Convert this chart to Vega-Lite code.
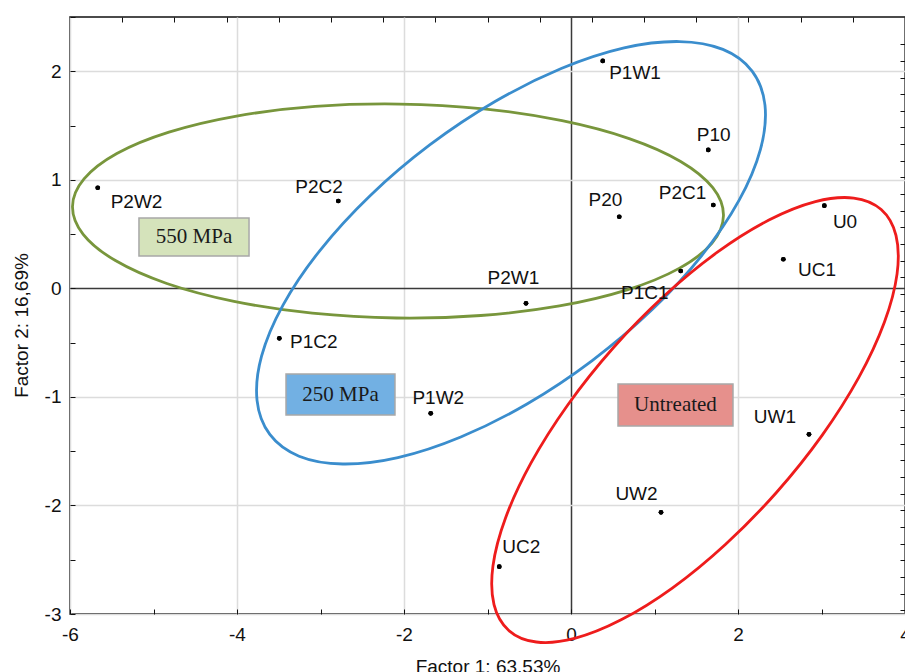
{
  "$schema": "https://vega.github.io/schema/vega-lite/v6.json",
  "width": 835,
  "height": 597,
  "autosize": "none",
  "padding": {"left": 70, "top": 17, "right": 0, "bottom": 58},
  "background": "white",
  "config": {
    "view": {"stroke": "#111111", "strokeWidth": 1.5},
    "font": "Liberation Sans"
  },
  "datasets": {
    "points": [
      {"name": "P2W2", "x": -5.668, "y": 0.927},
      {"name": "P2C2", "x": -2.787, "y": 0.805},
      {"name": "P1W1", "x": 0.380, "y": 2.095},
      {"name": "P10", "x": 1.644, "y": 1.275},
      {"name": "P2C1", "x": 1.704, "y": 0.768},
      {"name": "P20", "x": 0.578, "y": 0.660},
      {"name": "U0", "x": 3.034, "y": 0.762},
      {"name": "P2W1", "x": -0.539, "y": -0.138},
      {"name": "P1W2", "x": -1.680, "y": -1.151},
      {"name": "P1C2", "x": -3.493, "y": -0.460},
      {"name": "P1C1", "x": 1.314, "y": 0.160},
      {"name": "UC1", "x": 2.543, "y": 0.268},
      {"name": "UW1", "x": 2.850, "y": -1.345},
      {"name": "UW2", "x": 1.078, "y": -2.063},
      {"name": "UC2", "x": -0.859, "y": -2.564}
    ],
    "boxes": [
      {"g": "550 MPa", "x1": -5.174, "x2": -3.856, "y1": 0.648, "y2": 0.298, "xc": -4.515, "yc": 0.473},
      {"g": "250 MPa", "x1": -3.413, "x2": -2.108, "y1": -0.789, "y2": -1.167, "xc": -2.760, "yc": -0.978},
      {"g": "Untreated", "x1": 0.563, "x2": 1.940, "y1": -0.881, "y2": -1.268, "xc": 1.251, "yc": -1.075}
    ],
    "ellipses": [
      {"g": "550 MPa", "i": 0, "x": 1.826, "y": 0.671},
      {"g": "550 MPa", "i": 1, "x": 1.689, "y": 0.417},
      {"g": "550 MPa", "i": 2, "x": 1.295, "y": 0.184},
      {"g": "550 MPa", "i": 3, "x": 0.672, "y": -0.014},
      {"g": "550 MPa", "i": 4, "x": -0.138, "y": -0.162},
      {"g": "550 MPa", "i": 5, "x": -1.080, "y": -0.250},
      {"g": "550 MPa", "i": 6, "x": -2.090, "y": -0.273},
      {"g": "550 MPa", "i": 7, "x": -3.098, "y": -0.229},
      {"g": "550 MPa", "i": 8, "x": -4.036, "y": -0.120},
      {"g": "550 MPa", "i": 9, "x": -4.841, "y": 0.045},
      {"g": "550 MPa", "i": 10, "x": -5.456, "y": 0.256},
      {"g": "550 MPa", "i": 11, "x": -5.842, "y": 0.498},
      {"g": "550 MPa", "i": 12, "x": -5.970, "y": 0.755},
      {"g": "550 MPa", "i": 13, "x": -5.832, "y": 1.008},
      {"g": "550 MPa", "i": 14, "x": -5.439, "y": 1.242},
      {"g": "550 MPa", "i": 15, "x": -4.815, "y": 1.439},
      {"g": "550 MPa", "i": 16, "x": -4.005, "y": 1.587},
      {"g": "550 MPa", "i": 17, "x": -3.063, "y": 1.676},
      {"g": "550 MPa", "i": 18, "x": -2.054, "y": 1.698},
      {"g": "550 MPa", "i": 19, "x": -1.046, "y": 1.654},
      {"g": "550 MPa", "i": 20, "x": -0.107, "y": 1.545},
      {"g": "550 MPa", "i": 21, "x": 0.697, "y": 1.380},
      {"g": "550 MPa", "i": 22, "x": 1.313, "y": 1.169},
      {"g": "550 MPa", "i": 23, "x": 1.698, "y": 0.927},
      {"g": "250 MPa", "i": 0, "x": 2.169, "y": 2.002},
      {"g": "250 MPa", "i": 1, "x": 2.323, "y": 1.688},
      {"g": "250 MPa", "i": 2, "x": 2.269, "y": 1.281},
      {"g": "250 MPa", "i": 3, "x": 2.012, "y": 0.810},
      {"g": "250 MPa", "i": 4, "x": 1.568, "y": 0.305},
      {"g": "250 MPa", "i": 5, "x": 0.969, "y": -0.198},
      {"g": "250 MPa", "i": 6, "x": 0.254, "y": -0.665},
      {"g": "250 MPa", "i": 7, "x": -0.527, "y": -1.065},
      {"g": "250 MPa", "i": 8, "x": -1.320, "y": -1.369},
      {"g": "250 MPa", "i": 9, "x": -2.073, "y": -1.559},
      {"g": "250 MPa", "i": 10, "x": -2.733, "y": -1.618},
      {"g": "250 MPa", "i": 11, "x": -3.257, "y": -1.546},
      {"g": "250 MPa", "i": 12, "x": -3.607, "y": -1.346},
      {"g": "250 MPa", "i": 13, "x": -3.760, "y": -1.032},
      {"g": "250 MPa", "i": 14, "x": -3.706, "y": -0.625},
      {"g": "250 MPa", "i": 15, "x": -3.449, "y": -0.154},
      {"g": "250 MPa", "i": 16, "x": -3.005, "y": 0.351},
      {"g": "250 MPa", "i": 17, "x": -2.406, "y": 0.854},
      {"g": "250 MPa", "i": 18, "x": -1.692, "y": 1.321},
      {"g": "250 MPa", "i": 19, "x": -0.910, "y": 1.721},
      {"g": "250 MPa", "i": 20, "x": -0.117, "y": 2.025},
      {"g": "250 MPa", "i": 21, "x": 0.636, "y": 2.215},
      {"g": "250 MPa", "i": 22, "x": 1.296, "y": 2.274},
      {"g": "250 MPa", "i": 23, "x": 1.819, "y": 2.202},
      {"g": "Untreated", "i": 0, "x": 3.715, "y": 0.726},
      {"g": "Untreated", "i": 1, "x": 3.892, "y": 0.488},
      {"g": "Untreated", "i": 2, "x": 3.905, "y": 0.134},
      {"g": "Untreated", "i": 3, "x": 3.753, "y": -0.312},
      {"g": "Untreated", "i": 4, "x": 3.447, "y": -0.820},
      {"g": "Untreated", "i": 5, "x": 3.007, "y": -1.354},
      {"g": "Untreated", "i": 6, "x": 2.463, "y": -1.878},
      {"g": "Untreated", "i": 7, "x": 1.852, "y": -2.357},
      {"g": "Untreated", "i": 8, "x": 1.217, "y": -2.759},
      {"g": "Untreated", "i": 9, "x": 0.600, "y": -3.054},
      {"g": "Untreated", "i": 10, "x": 0.043, "y": -3.225},
      {"g": "Untreated", "i": 11, "x": -0.416, "y": -3.258},
      {"g": "Untreated", "i": 12, "x": -0.745, "y": -3.152},
      {"g": "Untreated", "i": 13, "x": -0.922, "y": -2.914},
      {"g": "Untreated", "i": 14, "x": -0.935, "y": -2.559},
      {"g": "Untreated", "i": 15, "x": -0.783, "y": -2.113},
      {"g": "Untreated", "i": 16, "x": -0.477, "y": -1.606},
      {"g": "Untreated", "i": 17, "x": -0.037, "y": -1.072},
      {"g": "Untreated", "i": 18, "x": 0.507, "y": -0.547},
      {"g": "Untreated", "i": 19, "x": 1.118, "y": -0.068},
      {"g": "Untreated", "i": 20, "x": 1.753, "y": 0.333},
      {"g": "Untreated", "i": 21, "x": 2.370, "y": 0.629},
      {"g": "Untreated", "i": 22, "x": 2.927, "y": 0.799},
      {"g": "Untreated", "i": 23, "x": 3.386, "y": 0.832}
    ]
  },
  "resolve": {"axis": {"x": "independent", "y": "independent"}},
  "layer": [
    {
      "data": {"name": "points"},
      "mark": {"type": "point", "filled": true, "color": "#000000", "size": 22, "opacity": 1},
      "encoding": {
        "x": {
          "field": "x", "type": "quantitative",
          "scale": {"domain": [-6, 4], "nice": false, "zero": false},
          "axis": {
            "orient": "bottom",
            "values": [-6, -5, -4, -3, -2, -1, 0, 1, 2, 3, 4],
            "labelExpr": "datum.value % 2 == 0 ? '' + datum.value : ''",
            "labelFlush": false, "labelOverlap": false, "labelBound": false,
            "labelFont": "Liberation Sans", "labelFontSize": 19, "labelColor": "#111111", "labelPadding": 16,
            "tickSize": -5, "tickColor": "#111111", "tickWidth": 1,
            "domain": false,
            "grid": true, "gridWidth": 1.5,
            "gridColor": {"condition": {"test": "datum.value == 0", "value": "#3a3a3a"}, "value": "#dcdcdc"},
            "gridOpacity": {"condition": {"test": "datum.value % 2 != 0", "value": 0}, "value": 1},
            "title": "Factor 1: 63,53%",
            "titleFont": "Liberation Sans", "titleFontSize": 19, "titleFontWeight": "normal", "titleColor": "#111111",
            "titleBaseline": "alphabetic", "titleY": 58
          }
        },
        "y": {
          "field": "y", "type": "quantitative",
          "scale": {"domain": [-3, 2.5], "nice": false, "zero": false},
          "axis": {
            "orient": "left",
            "values": [-3, -2.5, -2, -1.5, -1, -0.5, 0, 0.5, 1, 1.5, 2, 2.5],
            "labelExpr": "datum.value % 1 == 0 ? '' + datum.value : ''",
            "labelFlush": false, "labelOverlap": false, "labelBound": false,
            "labelFont": "Liberation Sans", "labelFontSize": 19, "labelColor": "#111111", "labelPadding": 14,
            "tickSize": -5, "tickColor": "#111111", "tickWidth": 1,
            "domain": false,
            "grid": true, "gridWidth": 1.5,
            "gridColor": {"condition": {"test": "datum.value == 0", "value": "#3a3a3a"}, "value": "#dcdcdc"},
            "gridOpacity": {"condition": {"test": "datum.value % 1 != 0", "value": 0}, "value": 1},
            "title": "Factor 2: 16,69%",
            "titleFont": "Liberation Sans", "titleFontSize": 19, "titleFontWeight": "normal", "titleColor": "#111111",
            "titleBaseline": "alphabetic", "titleAngle": 270, "titleX": -43, "titleY": 308
          }
        }
      }
    },
    {
      "data": {"name": "boxes"},
      "mark": {"type": "rect", "stroke": "#a8a8a8", "strokeWidth": 1.5},
      "encoding": {
        "x": {
          "field": "x1", "type": "quantitative",
          "axis": {
            "orient": "top",
            "values": [-5.375, -4.75, -4.125, -3.5, -2.875, -2.25, -1.625, -1, -0.375, 0.25, 0.875, 1.5, 2.125, 2.75, 3.375],
            "labels": false, "grid": false, "domain": false,
            "tickSize": -5, "tickColor": "#111111", "tickWidth": 1, "title": null
          }
        },
        "x2": {"field": "x2"},
        "y": {
          "field": "y1", "type": "quantitative",
          "axis": {
            "orient": "right",
            "values": [2.248, 2.095, 1.942, 1.788, 1.635, 1.482, 1.328, 1.175, 1.022, 0.868, 0.715, 0.562, 0.408, 0.255, 0.102, -0.052, -0.205, -0.358, -0.512, -0.665, -0.818, -0.972, -1.125, -1.278, -1.432, -1.585, -1.738, -1.892, -2.045, -2.198, -2.352, -2.505, -2.658, -2.812, -2.965],
            "labels": false, "grid": false, "domain": false,
            "tickSize": -5, "tickColor": "#111111", "tickWidth": 1, "title": null
          }
        },
        "y2": {"field": "y2"},
        "fill": {
          "field": "g", "type": "nominal", "legend": null,
          "scale": {"domain": ["550 MPa", "250 MPa", "Untreated"], "range": ["#d5e3bb", "#72b0e3", "#e6908c"]}
        }
      }
    },
    {
      "data": {"name": "boxes"},
      "mark": {"type": "text", "font": "Liberation Serif", "fontSize": 21, "color": "#1a1a1a", "align": "center", "baseline": "middle"},
      "encoding": {
        "x": {"field": "xc", "type": "quantitative", "axis": null},
        "y": {"field": "yc", "type": "quantitative", "axis": null},
        "text": {"field": "g"}
      }
    },
    {
      "data": {"name": "ellipses"},
      "mark": {"type": "line", "interpolate": "cardinal-closed", "strokeWidth": 2.8},
      "encoding": {
        "x": {"field": "x", "type": "quantitative", "axis": null},
        "y": {"field": "y", "type": "quantitative", "axis": null},
        "order": {"field": "i", "type": "quantitative"},
        "color": {
          "field": "g", "type": "nominal", "legend": null,
          "scale": {"domain": ["550 MPa", "250 MPa", "Untreated"], "range": ["#78963c", "#3a8dcd", "#ee1c1c"]}
        }
      }
    },
    {
      "data": {"name": "points"},
      "mark": {"type": "point", "filled": true, "color": "#000000", "size": 22, "opacity": 1},
      "encoding": {
        "x": {"field": "x", "type": "quantitative", "axis": null},
        "y": {"field": "y", "type": "quantitative", "axis": null}
      }
    },
    {"data": {"name": "points"}, "transform": [{"filter": "datum.name == 'P2W2'"}], "mark": {"type": "text", "dx": 38.8, "dy": 14, "fontSize": 19, "font": "Liberation Sans", "color": "#111111", "align": "center", "baseline": "middle"}, "encoding": {"x": {"field": "x", "type": "quantitative", "axis": null}, "y": {"field": "y", "type": "quantitative", "axis": null}, "text": {"field": "name"}}},
    {"data": {"name": "points"}, "transform": [{"filter": "datum.name == 'P2C2'"}], "mark": {"type": "text", "dx": -19.3, "dy": -14, "fontSize": 19, "font": "Liberation Sans", "color": "#111111", "align": "center", "baseline": "middle"}, "encoding": {"x": {"field": "x", "type": "quantitative", "axis": null}, "y": {"field": "y", "type": "quantitative", "axis": null}, "text": {"field": "name"}}},
    {"data": {"name": "points"}, "transform": [{"filter": "datum.name == 'P1W1'"}], "mark": {"type": "text", "dx": 32.3, "dy": 12, "fontSize": 19, "font": "Liberation Sans", "color": "#111111", "align": "center", "baseline": "middle"}, "encoding": {"x": {"field": "x", "type": "quantitative", "axis": null}, "y": {"field": "y", "type": "quantitative", "axis": null}, "text": {"field": "name"}}},
    {"data": {"name": "points"}, "transform": [{"filter": "datum.name == 'P10'"}], "mark": {"type": "text", "dx": 5.4, "dy": -15, "fontSize": 19, "font": "Liberation Sans", "color": "#111111", "align": "center", "baseline": "middle"}, "encoding": {"x": {"field": "x", "type": "quantitative", "axis": null}, "y": {"field": "y", "type": "quantitative", "axis": null}, "text": {"field": "name"}}},
    {"data": {"name": "points"}, "transform": [{"filter": "datum.name == 'P2C1'"}], "mark": {"type": "text", "dx": -30.8, "dy": -12.3, "fontSize": 19, "font": "Liberation Sans", "color": "#111111", "align": "center", "baseline": "middle"}, "encoding": {"x": {"field": "x", "type": "quantitative", "axis": null}, "y": {"field": "y", "type": "quantitative", "axis": null}, "text": {"field": "name"}}},
    {"data": {"name": "points"}, "transform": [{"filter": "datum.name == 'P20'"}], "mark": {"type": "text", "dx": -13.8, "dy": -16.7, "fontSize": 19, "font": "Liberation Sans", "color": "#111111", "align": "center", "baseline": "middle"}, "encoding": {"x": {"field": "x", "type": "quantitative", "axis": null}, "y": {"field": "y", "type": "quantitative", "axis": null}, "text": {"field": "name"}}},
    {"data": {"name": "points"}, "transform": [{"filter": "datum.name == 'U0'"}], "mark": {"type": "text", "dx": 20.7, "dy": 16, "fontSize": 19, "font": "Liberation Sans", "color": "#111111", "align": "center", "baseline": "middle"}, "encoding": {"x": {"field": "x", "type": "quantitative", "axis": null}, "y": {"field": "y", "type": "quantitative", "axis": null}, "text": {"field": "name"}}},
    {"data": {"name": "points"}, "transform": [{"filter": "datum.name == 'UC1'"}], "mark": {"type": "text", "dx": 33.7, "dy": 10.7, "fontSize": 19, "font": "Liberation Sans", "color": "#111111", "align": "center", "baseline": "middle"}, "encoding": {"x": {"field": "x", "type": "quantitative", "axis": null}, "y": {"field": "y", "type": "quantitative", "axis": null}, "text": {"field": "name"}}},
    {"data": {"name": "points"}, "transform": [{"filter": "datum.name == 'P1C1'"}], "mark": {"type": "text", "dx": -35.9, "dy": 22, "fontSize": 19, "font": "Liberation Sans", "color": "#111111", "align": "center", "baseline": "middle"}, "encoding": {"x": {"field": "x", "type": "quantitative", "axis": null}, "y": {"field": "y", "type": "quantitative", "axis": null}, "text": {"field": "name"}}},
    {"data": {"name": "points"}, "transform": [{"filter": "datum.name == 'P2W1'"}], "mark": {"type": "text", "dx": -12.5, "dy": -25.3, "fontSize": 19, "font": "Liberation Sans", "color": "#111111", "align": "center", "baseline": "middle"}, "encoding": {"x": {"field": "x", "type": "quantitative", "axis": null}, "y": {"field": "y", "type": "quantitative", "axis": null}, "text": {"field": "name"}}},
    {"data": {"name": "points"}, "transform": [{"filter": "datum.name == 'P1W2'"}], "mark": {"type": "text", "dx": 7.6, "dy": -15.3, "fontSize": 19, "font": "Liberation Sans", "color": "#111111", "align": "center", "baseline": "middle"}, "encoding": {"x": {"field": "x", "type": "quantitative", "axis": null}, "y": {"field": "y", "type": "quantitative", "axis": null}, "text": {"field": "name"}}},
    {"data": {"name": "points"}, "transform": [{"filter": "datum.name == 'P1C2'"}], "mark": {"type": "text", "dx": 34.5, "dy": 3.4, "fontSize": 19, "font": "Liberation Sans", "color": "#111111", "align": "center", "baseline": "middle"}, "encoding": {"x": {"field": "x", "type": "quantitative", "axis": null}, "y": {"field": "y", "type": "quantitative", "axis": null}, "text": {"field": "name"}}},
    {"data": {"name": "points"}, "transform": [{"filter": "datum.name == 'UW1'"}], "mark": {"type": "text", "dx": -34, "dy": -17.6, "fontSize": 19, "font": "Liberation Sans", "color": "#111111", "align": "center", "baseline": "middle"}, "encoding": {"x": {"field": "x", "type": "quantitative", "axis": null}, "y": {"field": "y", "type": "quantitative", "axis": null}, "text": {"field": "name"}}},
    {"data": {"name": "points"}, "transform": [{"filter": "datum.name == 'UW2'"}], "mark": {"type": "text", "dx": -24.5, "dy": -18.3, "fontSize": 19, "font": "Liberation Sans", "color": "#111111", "align": "center", "baseline": "middle"}, "encoding": {"x": {"field": "x", "type": "quantitative", "axis": null}, "y": {"field": "y", "type": "quantitative", "axis": null}, "text": {"field": "name"}}},
    {"data": {"name": "points"}, "transform": [{"filter": "datum.name == 'UC2'"}], "mark": {"type": "text", "dx": 22, "dy": -20, "fontSize": 19, "font": "Liberation Sans", "color": "#111111", "align": "center", "baseline": "middle"}, "encoding": {"x": {"field": "x", "type": "quantitative", "axis": null}, "y": {"field": "y", "type": "quantitative", "axis": null}, "text": {"field": "name"}}}
  ]
}
